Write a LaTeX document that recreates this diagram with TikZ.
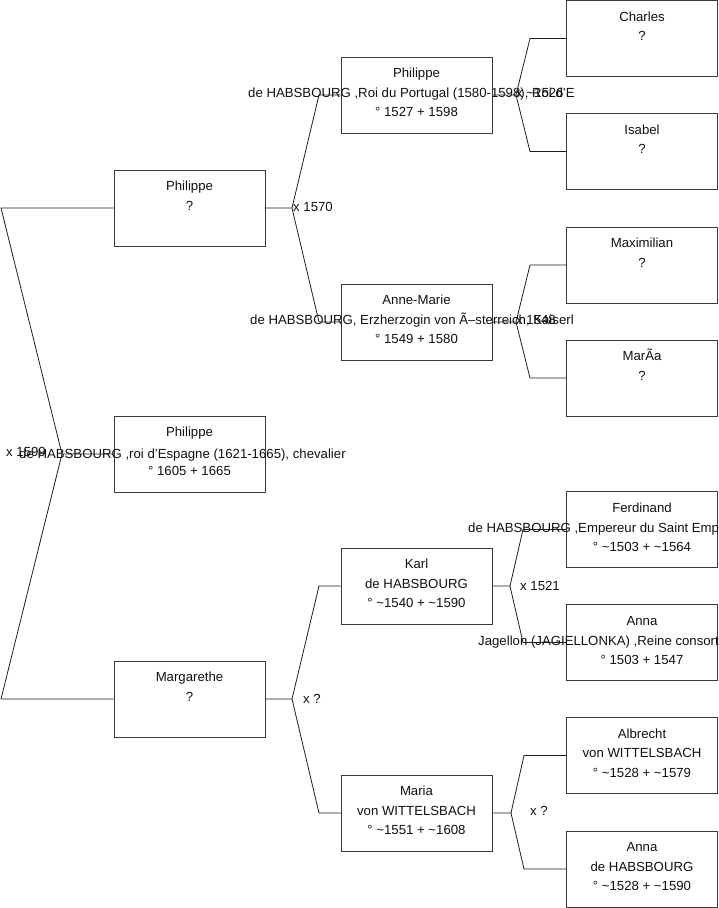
\documentclass[tikz,border=0pt]{standalone}
\usepackage{fontspec}
\setmainfont{Liberation Sans}
\usetikzlibrary{positioning, calc}
\definecolor{BoxLine}{HTML}{3A3A3A}
\definecolor{LinkLine}{HTML}{1E1E1E}
\definecolor{TxtPri}{HTML}{101010}

\tikzset{
  person/.style={draw=BoxLine, line width=0.9pt, minimum width=151pt,
                 minimum height=76pt, inner sep=0pt},
  pline/.style={font=\fontsize{13.2}{15}\selectfont, text=TxtPri,
                inner sep=0pt, anchor=base},
  link/.style={draw=LinkLine, line width=0.8pt},
  wedding/.style={pline, anchor=base west}
}

% one card: name, position, three text lines
\newcommand{\famcard}[5]{%
  \node[person] (#1) at (#2) {};
  \node[pline] (#1-a) at ($(#1.north)+(0,21)$) {#3};
  \node[pline] (#1-b) at ($(#1.north)+(0,40.5)$) {#4};
  \node[pline] (#1-c) at ($(#1.north)+(0,60)$) {#5};
}

\begin{document}
\begin{tikzpicture}[x=1pt, y=-1pt]
  \useasboundingbox (0,0) rectangle (719,908);
  \clip (0,0) rectangle (719,908);

  % cards
  \famcard{root}{189.5,454}{Philippe}{}{° 1605 + 1665}
  \node[pline, anchor=base west] (root-t) at (19,458.5)
    {de HABSBOURG ,roi d'Espagne (1621-1665), chevalier};

  \famcard{fa}{189.5,208}{Philippe}{?}{}
  \famcard{mo}{189.5,699}{Margarethe}{?}{}

  \famcard{ffa}{416.5,95}{Philippe}{}{° 1527 + 1598}
  \node[pline, anchor=base west] (ffa-t) at (248,97.5)
    {de HABSBOURG ,Roi du Portugal (1580-1598), Roi d'E};
  \famcard{fmo}{416.5,322}{Anne-Marie}{}{° 1549 + 1580}
  \node[pline, anchor=base west] (fmo-t) at (250,324.5)
    {de HABSBOURG, Erzherzogin von Ã–sterreich, Kaiserl};
  \famcard{mfa}{416.5,586}{Karl}{de HABSBOURG}{° \textasciitilde1540 + \textasciitilde1590}
  \famcard{mmo}{416.5,813}{Maria}{von WITTELSBACH}{° \textasciitilde1551 + \textasciitilde1608}

  \famcard{g1}{642,38.5}{Charles}{?}{}
  \famcard{g2}{642,151.5}{Isabel}{?}{}
  \famcard{g3}{642,265}{Maximilian}{?}{}
  \famcard{g4}{642,378}{MarÃa}{?}{}
  \famcard{g5}{642,529.5}{Ferdinand}{}{° \textasciitilde1503 + \textasciitilde1564}
  \node[pline, anchor=base west] (g5-t) at (468,532)
    {de HABSBOURG ,Empereur du Saint Emp};
  \famcard{g6}{642,642.5}{Anna}{}{° 1503 + 1547}
  \node[pline, anchor=base west] (g6-t) at (478,645)
    {Jagellon (JAGIELLONKA) ,Reine consort};
  \famcard{g7}{642,755.5}{Albrecht}{von WITTELSBACH}{° \textasciitilde1528 + \textasciitilde1579}
  \famcard{g8}{642,869}{Anna}{de HABSBOURG}{° \textasciitilde1528 + \textasciitilde1590}

  % forks
  \coordinate (k0) at (62,454);
  \coordinate (k0a) at (1,208);
  \coordinate (k0b) at (1,699);
  \coordinate (k1) at (292,208);
  \coordinate (k1a) at (319,95);
  \coordinate (k1b) at (319,322);
  \coordinate (k2) at (292,699);
  \coordinate (k2a) at (319,586);
  \coordinate (k2b) at (319,813);
  \coordinate (k3) at (516,95);
  \coordinate (k3a) at (530,38.5);
  \coordinate (k3b) at (530,151.5);
  \coordinate (k4) at (516,322);
  \coordinate (k4a) at (530,265);
  \coordinate (k4b) at (530,378);
  \coordinate (k5) at (510,586);
  \coordinate (k5a) at (523,529.5);
  \coordinate (k5b) at (523,642.5);
  \coordinate (k6) at (511,813);
  \coordinate (k6a) at (524,755.5);
  \coordinate (k6b) at (524,869);

  \draw[link] (root.west) -- (k0) -- (k0a) -- (fa.west);
  \draw[link] (k0) -- (k0b) -- (mo.west);
  \draw[link] (fa.east) -- (k1) -- (k1a) -- (ffa.west);
  \draw[link] (k1) -- (k1b) -- (fmo.west);
  \draw[link] (mo.east) -- (k2) -- (k2a) -- (mfa.west);
  \draw[link] (k2) -- (k2b) -- (mmo.west);
  \draw[link] (ffa.east) -- (k3) -- (k3a) -- (g1.west);
  \draw[link] (k3) -- (k3b) -- (g2.west);
  \draw[link] (fmo.east) -- (k4) -- (k4a) -- (g3.west);
  \draw[link] (k4) -- (k4b) -- (g4.west);
  \draw[link] (mfa.east) -- (k5) -- (k5a) -- (g5.west);
  \draw[link] (k5) -- (k5b) -- (g6.west);
  \draw[link] (mmo.east) -- (k6) -- (k6a) -- (g7.west);
  \draw[link] (k6) -- (k6b) -- (g8.west);

  % marriages
  \node[wedding] (w0) at (6,456.5) {x 1599};
  \node[wedding] (w1) at (293,211.5) {x 1570};
  \node[wedding] (w2) at (303,703.5) {x ?};
  \node[wedding] (w3) at (516,97) {x \textasciitilde1526};
  \node[wedding] (w4) at (516,324) {x 1548};
  \node[wedding] (w5) at (520,590.5) {x 1521};
  \node[wedding] (w6) at (530,815.5) {x ?};
\end{tikzpicture}
\end{document}
